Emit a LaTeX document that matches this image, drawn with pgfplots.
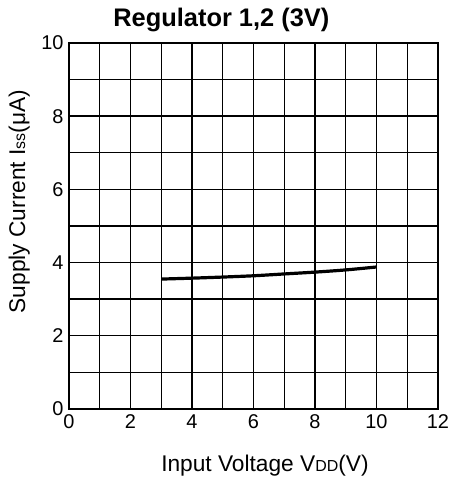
\documentclass[border=0pt]{standalone}
\usepackage{fontspec}
\setmainfont{Liberation Sans}
\usepackage{pgfplots}
\pgfplotsset{compat=1.18}
\begin{document}
\begin{tikzpicture}
\begin{axis}[
  width=369bp, height=366bp, scale only axis=true,
  xmin=0, xmax=12, ymin=0, ymax=10,
  xtick={0,2,...,12}, ytick={0,2,...,10},
  minor xtick={1,3,...,11}, minor ytick={1,3,...,9},
  grid=both,
  major grid style={black, line width=1.4bp},
  minor grid style={black, line width=1.4bp},
  axis line style={black, line width=1.4bp},
  major tick length=0pt, minor tick length=0pt,
  /pgf/number format/assume math mode=true,
  xticklabel={\fontsize{20}{20}\selectfont\pgfmathprintnumber{\tick}},
  yticklabel={\fontsize{20}{20}\selectfont\pgfmathprintnumber{\tick}},
  xticklabel style={yshift=-2bp},
  yticklabel style={xshift=-2bp},
  title={\bfseries Regulator 1,2 (3V)},
  title style={at={(axis description cs:0.413,1.030)}, anchor=base, font=\fontsize{25.5}{26}\selectfont},
  xlabel={Input Voltage V{\fontsize{16}{16}\selectfont DD}(V)},
  xlabel style={at={(axis description cs:0.531,-0.1713)}, anchor=base, font=\fontsize{22.8}{23}\selectfont},
  ylabel={Supply Current I{\fontsize{16}{16}\selectfont ss}(μA)},
  ylabel style={at={(axis description cs:-0.1192,0.567)}, anchor=base, font=\fontsize{22.8}{23}\selectfont},
]
\addplot[black, line width=3.2bp, smooth] coordinates {
(3,3.55) (4,3.575) (5,3.605) (6,3.64) (7,3.69) (8,3.74) (9,3.80) (10,3.88)
};
\coordinate (bl) at (rel axis cs:0,0);
\coordinate (tr) at (rel axis cs:1,1);
\end{axis}
\pgfresetboundingbox
\path[use as bounding box] ([shift={(-69bp,-72bp)}]bl) rectangle ([shift={(15bp,43bp)}]tr);
\end{tikzpicture}
\end{document}
